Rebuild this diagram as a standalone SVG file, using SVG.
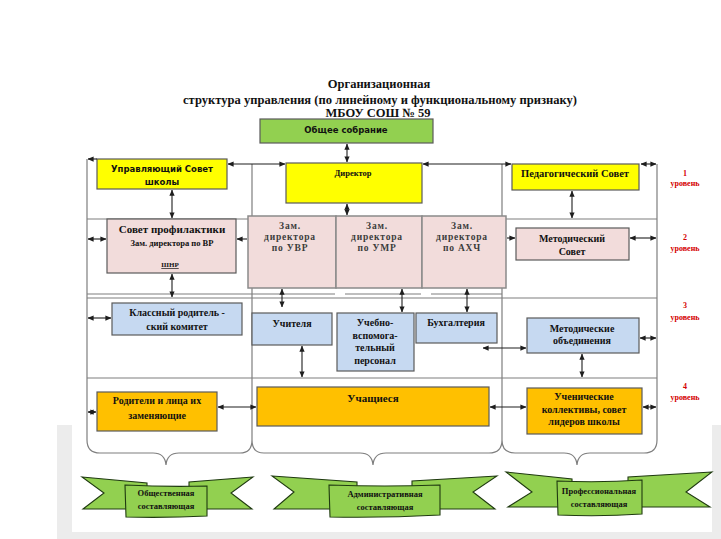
<svg xmlns="http://www.w3.org/2000/svg" width="721" height="539" viewBox="0 0 721 539">
<defs>
<style>
.fr{stroke:#7f7f7f;stroke-width:1.2;fill:none}
.cn{stroke:#1e1e1e;stroke-width:1.1;fill:none;marker-start:url(#ah);marker-end:url(#ah)}
.c1{stroke:#1e1e1e;stroke-width:1.1;fill:none;marker-end:url(#ah)}
.bx{stroke:#5a5a5a;stroke-width:1.2}
.y{fill:#ffff00}
.g{fill:#92d050}
.o{fill:#ffc000}
.b{fill:#c6d9f1}
.p{fill:#f2dcdb}
text{font-family:'Liberation Serif','DejaVu Serif',serif;font-weight:bold;fill:#111;text-anchor:middle}
.s{font-family:'DejaVu Sans',sans-serif}
.z{fill:#3c3c3c;font-size:9.5px;letter-spacing:0.8px}
.lv{fill:#d40000;font-size:8px}
.rb{fill:#92d050;stroke:#1f3a10;stroke-width:1.1}
</style>
<marker id="ah" viewBox="0 0 8 8" refX="7.5" refY="4" markerWidth="6" markerHeight="6" markerUnits="userSpaceOnUse" orient="auto-start-reverse"><path d="M0,0.5 L8,4 L0,7.5 z" fill="#1e1e1e"/></marker>
</defs>
<rect x="0" y="0" width="721" height="539" fill="#ffffff"/>
<rect x="57" y="425" width="664" height="114" fill="#ececec"/>
<rect x="72" y="425" width="640" height="107" fill="#ffffff"/>

<g id="title" font-family="Liberation Serif, serif">
<text x="379" y="88" font-size="12.5" font-family="Liberation Serif, serif">Организационная</text>
<text x="380" y="104" font-size="12.5" textLength="394" lengthAdjust="spacingAndGlyphs" font-family="Liberation Serif, serif">структура управления (по линейному и функциональному признаку)</text>
<text x="378" y="117" font-size="12.5" font-family="Liberation Serif, serif">МБОУ СОШ № 59</text>
</g>

<g id="frame">
<path class="fr" d="M87,159 V440 Q87,453 100,453 H153 Q165,453 166,465 Q167,453 179,453 H240 Q252,453 252,440 Q252,453 264,453 H360 Q372,453 373,465 Q374,453 386,453 H489 Q502,453 502,440 Q502,453 515,453 H564 Q576,453 577,465 Q578,453 590,453 H644 Q657,453 657,440 V164"/>
<path class="fr" d="M252,164 V216 M502,164 V216 M252,288 V440 M502,288 V440"/>
<path class="fr" d="M87,219 H657 M87,298 H657 M87,294 H335 M345,294 H421 M431,294 H502 M87,378 H657"/>
</g>

<g id="obshchee-sobranie">
<rect class="bx g" x="260" y="119" width="173" height="24"/>
<text class="s" x="346" y="133" font-size="8.5">Общее собрание</text>
</g>
<g id="direktor">
<rect class="bx y" x="286" y="163" width="136" height="40"/>
<text x="353" y="176" font-size="8.5">Директор</text>
</g>
<g id="upr-sovet">
<rect class="bx y" x="97" y="159" width="130" height="30"/>
<text class="s" x="162" y="172" font-size="8.5">Управляющий  Совет</text>
<text class="s" x="162" y="185" font-size="8.5">школы</text>
</g>
<g id="ped-sovet">
<rect class="bx y" x="512" y="164" width="127" height="26"/>
<text x="575" y="177" font-size="10.5">Педагогический Совет</text>
</g>
<g id="sovet-profilaktiki">
<rect class="bx p" x="107" y="219" width="129" height="54"/>
<text x="172" y="233" font-size="11">Совет профилактики</text>
<text x="172" y="246" font-size="8.5">Зам. директора по ВР</text>
<text x="170" y="267" font-size="7" text-decoration="underline">ШНР</text>
</g>
<g id="zam-uvr">
<rect class="p" x="248" y="216" width="88" height="72" stroke="#8a8a8a" stroke-width="1.5"/>
<text class="z" x="290" y="229">Зам.</text>
<text class="z" x="290" y="240">директора</text>
<text class="z" x="290" y="251">по УВР</text>
</g>
<g id="zam-umr">
<rect class="p" x="336" y="216" width="86" height="72" stroke="#8a8a8a" stroke-width="1.5"/>
<text class="z" x="377" y="229">Зам.</text>
<text class="z" x="377" y="240">директора</text>
<text class="z" x="377" y="251">по УМР</text>
</g>
<g id="zam-ahch">
<rect class="p" x="422" y="216" width="84" height="72" stroke="#8a8a8a" stroke-width="1.5"/>
<text class="z" x="462" y="229">Зам.</text>
<text class="z" x="462" y="240">директора</text>
<text class="z" x="462" y="251">по АХЧ</text>
</g>
<g id="metod-sovet">
<rect class="bx p" x="516" y="228" width="113" height="32"/>
<text x="572" y="242" font-size="10">Методический</text>
<text x="572" y="255" font-size="10">Совет</text>
</g>
<g id="klassny-komitet">
<rect class="bx b" x="112" y="303" width="130" height="32"/>
<text x="177" y="316" font-size="10">Классный родитель -</text>
<text x="177" y="330" font-size="10">ский комитет</text>
</g>
<g id="uchitelya">
<rect class="bx b" x="252" y="313" width="80" height="32"/>
<text x="292" y="327" font-size="10">Учителя</text>
</g>
<g id="uchebno-vspom">
<rect class="bx b" x="337" y="313" width="77" height="58"/>
<text x="375" y="326" font-size="10">Учебно-</text>
<text x="375" y="339" font-size="10">вспомога-</text>
<text x="375" y="351" font-size="10">тельный</text>
<text x="375" y="364" font-size="10">персонал</text>
</g>
<g id="buhgalteriya">
<rect class="bx b" x="416" y="313" width="81" height="30"/>
<text x="456" y="326" font-size="10">Бухгалтерия</text>
</g>
<g id="metod-obedineniya">
<rect class="bx b" x="527" y="318" width="112" height="35"/>
<text x="582" y="332" font-size="10">Методические</text>
<text x="582" y="344" font-size="10">объединения</text>
</g>
<g id="roditeli">
<rect class="bx o" x="97" y="392" width="120" height="39"/>
<text x="157" y="404" font-size="10">Родители и лица их</text>
<text x="157" y="419" font-size="10">заменяющие</text>
</g>
<g id="uchashchiesya">
<rect class="bx o" x="257" y="387" width="232" height="39"/>
<text x="373" y="402" font-size="11">Учащиеся</text>
</g>
<g id="uchenicheskie">
<rect class="bx o" x="527" y="388" width="115" height="46"/>
<text x="584" y="400" font-size="10">Ученические</text>
<text x="584" y="413" font-size="10">коллективы, совет</text>
<text x="584" y="425" font-size="10">лидеров школы</text>
</g>

<g id="levels">
<text class="lv" x="685" y="176">1</text><text class="lv" x="685" y="186">уровень</text>
<text class="lv" x="685" y="240">2</text><text class="lv" x="685" y="251">уровень</text>
<text class="lv" x="685" y="308">3</text><text class="lv" x="685" y="320">уровень</text>
<text class="lv" x="685" y="389">4</text><text class="lv" x="685" y="400">уровень</text>
</g>

<g id="connectors">
<path class="cn" d="M347,144 V162"/>
<path class="cn" d="M228,164 H285"/>
<path class="cn" d="M423,164 H511"/>
<path class="cn" d="M641,164 H656"/>
<path class="c1" d="M97,159 H88"/>
<path class="cn" d="M172,190 V218"/>
<path class="cn" d="M572,191 V218"/>
<path class="cn" d="M347,204 V215"/>
<path class="cn" d="M88,239 H106"/>
<path class="c1" d="M247,239 H237"/>
<path class="c1" d="M507,238 H515"/>
<path class="cn" d="M630,238 H656"/>
<path class="cn" d="M172,274 V297"/>
<path class="cn" d="M282,289 V307"/>
<path class="cn" d="M402,289 V312"/>
<path class="cn" d="M467,289 V312"/>
<path class="cn" d="M88,318 H111"/>
<path class="cn" d="M302,346 V377"/>
<path class="cn" d="M483,348 H526"/>
<path class="cn" d="M640,338 H656"/>
<path class="cn" d="M582,354 V377"/>
<path class="cn" d="M88,412 H96"/>
<path class="cn" d="M218,407 H256"/>
<path class="cn" d="M490,407 H526"/>
<path class="cn" d="M643,407 H656"/>
</g>

<g id="ribbon-obshchestvennaya">
<polygon class="rb" points="82,477 147,483 147,509 83,509 104,493"/>
<polygon class="rb" points="253,477 189,482 189,509 252,509 231,493"/>
<path class="rb" d="M125,485 Q166,487 207,486 L207,516 Q166,518 126,517 Z"/>
<text x="166" y="496" font-size="8.5">Общественная</text>
<text x="166" y="509" font-size="8.5">составляющая</text>
</g>
<g id="ribbon-administrativnaya">
<polygon class="rb" points="272,476 357,482 357,509 274,509 294,492"/>
<polygon class="rb" points="497,476 412,481 412,509 495,509 473,492"/>
<path class="rb" d="M329,485 Q385,487 440,485 L440,515 Q385,518 330,517 Z"/>
<text x="385" y="497" font-size="8.5">Административная</text>
<text x="385" y="510" font-size="8.5">составляющая</text>
</g>
<g id="ribbon-professionalnaya">
<polygon class="rb" points="506,472 572,479 572,507 508,507 532,492"/>
<polygon class="rb" points="712,472 628,477 628,507 710,507 686,492"/>
<path class="rb" d="M557,481 Q600,483 642,480 L642,514 Q600,517 558,515 Z"/>
<text x="599" y="494" font-size="8.5">Профессиональная</text>
<text x="599" y="507" font-size="8.5">составляющая</text>
</g>
</svg>
